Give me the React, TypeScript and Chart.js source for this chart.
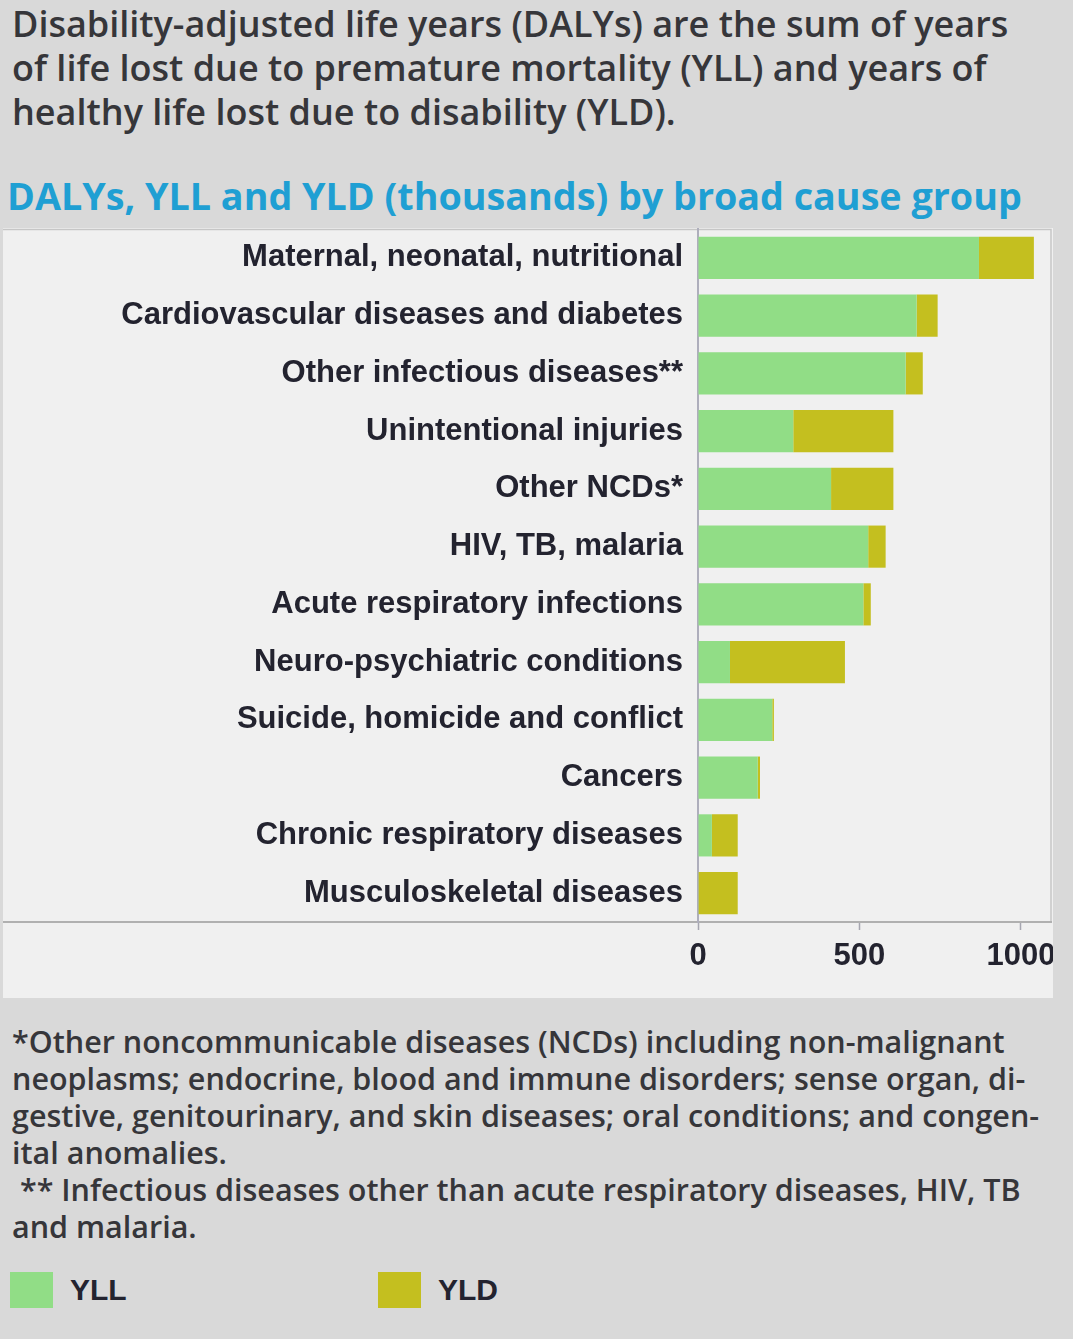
import React, { useEffect, useRef } from "react";
import { Chart, registerables } from "chart.js";

Chart.register(...registerables);

// Broad cause groups, top to bottom
const causes = [
  "Maternal, neonatal, nutritional",
  "Cardiovascular diseases and diabetes",
  "Other infectious diseases**",
  "Unintentional injuries",
  "Other NCDs*",
  "HIV, TB, malaria",
  "Acute respiratory infections",
  "Neuro-psychiatric conditions",
  "Suicide, homicide and conflict",
  "Cancers",
  "Chronic respiratory diseases",
  "Musculoskeletal diseases",
];

// Years of life lost (thousands)
const yll = [870, 677, 643, 295, 412, 527, 512, 99, 230, 185, 43, 2];
// Years lived with disability (thousands)
const yld = [170, 65, 53, 310, 193, 54, 23, 356, 5, 7, 80, 121];

const xTicks = [0, 500, 1000];
const xMax = 1093;

const introLines = [
  "Disability-adjusted life years (DALYs) are the sum of years",
  "of life lost due to premature mortality (YLL) and years of",
  "healthy life lost due to disability (YLD).",
];
const chartTitle = "DALYs, YLL and YLD (thousands) by broad cause group";
const noteLines = [
  "*Other noncommunicable diseases (NCDs) including non-malignant",
  "neoplasms; endocrine, blood and immune disorders; sense organ, di-",
  "gestive, genitourinary, and skin diseases; oral conditions; and congen-",
  "ital anomalies.",
  " ** Infectious diseases other than acute respiratory diseases, HIV, TB",
  "and malaria.",
];

const YLL_COLOR = "#91dd86";
const YLD_COLOR = "#c4bf1f";
const INK = "#23232f";
const LABEL_FONT = "'Liberation Sans', Arial, sans-serif";

// Frame around the labels and bars
const framePlugin = {
  id: "frame",
  beforeDraw(chart: any) {
    const { ctx, chartArea } = chart;
    ctx.save();
    ctx.strokeStyle = "#c6c6c6";
    ctx.lineWidth = 1.5;
    ctx.beginPath();
    ctx.moveTo(0, chartArea.top + 0.5);
    ctx.lineTo(chartArea.right, chartArea.top + 0.5);
    ctx.lineTo(chartArea.right, chartArea.bottom);
    ctx.stroke();
    ctx.strokeStyle = "#b0b0b0";
    ctx.lineWidth = 2;
    ctx.beginPath();
    ctx.moveTo(0, chartArea.bottom);
    ctx.lineTo(chartArea.right, chartArea.bottom);
    ctx.stroke();
    ctx.restore();
  },
};

function DalyChart() {
  const ref = useRef<HTMLCanvasElement | null>(null);
  useEffect(() => {
    if (!ref.current) return;
    const chart = new Chart(ref.current, {
      type: "bar",
      data: {
        labels: causes,
        datasets: [
          {
            label: "YLL",
            data: yll,
            backgroundColor: YLL_COLOR,
            borderWidth: 0,
            barPercentage: 0.73,
            categoryPercentage: 1,
          },
          {
            label: "YLD",
            data: yld,
            backgroundColor: YLD_COLOR,
            borderWidth: 0,
            barPercentage: 0.73,
            categoryPercentage: 1,
          },
        ],
      },
      options: {
        indexAxis: "y",
        animation: false,
        responsive: false,
        maintainAspectRatio: false,
        layout: { padding: { top: 1, right: 2, left: 0, bottom: 0 } },
        plugins: {
          legend: { display: false },
          tooltip: { enabled: false },
          title: { display: false },
        },
        scales: {
          x: {
            stacked: true,
            min: 0,
            max: xMax,
            afterBuildTicks: (scale: any) => {
              scale.ticks = xTicks.map((v) => ({ value: v }));
            },
            afterFit: (scale: any) => {
              scale.height = 76;
              scale.paddingLeft = 0;
              scale.paddingRight = 0;
            },
            grid: {
              drawOnChartArea: false,
              drawTicks: true,
              tickLength: 8,
              tickColor: "#a6a6b0",
              tickWidth: 1.5,
            },
            border: { display: true, color: "#b0b0b0", width: 2 },
            ticks: {
              color: INK,
              padding: 8,
              maxRotation: 0,
              callback: (v: any) => String(v),
              font: { family: LABEL_FONT, size: 31, weight: "bold" },
            },
          },
          y: {
            stacked: true,
            afterFit: (scale: any) => {
              scale.width = 695;
              scale.paddingTop = 0;
              scale.paddingBottom = 0;
            },
            grid: { drawOnChartArea: false, drawTicks: false },
            border: { display: true, color: "#aeaebc", width: 2 },
            ticks: {
              color: INK,
              padding: 15,
              autoSkip: false,
              font: { family: LABEL_FONT, size: 31, weight: "bold" },
            },
          },
        },
      },
      plugins: [framePlugin],
    } as any);
    return () => chart.destroy();
  }, []);
  return <canvas ref={ref} width={1050} height={770} style={{ display: "block" }} />;
}

export default function App() {
  const textFont = "'Open Sans', 'Noto Sans', sans-serif";
  return (
    <div
      style={{
        position: "absolute",
        left: 0,
        top: 0,
        width: 1073,
        height: 1339,
        background: "#d9d9d9",
        overflow: "hidden",
      }}
    >
      <div
        style={{
          position: "absolute",
          left: 12,
          top: 2,
          fontFamily: textFont,
          fontWeight: 600,
          fontSize: 36,
          lineHeight: "44px",
          color: "#36363a",
          whiteSpace: "pre",
        }}
      >
        {introLines.map((l) => (
          <div key={l}>{l}</div>
        ))}
      </div>
      <div
        style={{
          position: "absolute",
          left: 7,
          top: 174,
          fontFamily: textFont,
          fontWeight: 700,
          fontSize: 37.7,
          lineHeight: "44px",
          color: "#1f9fd3",
          whiteSpace: "pre",
        }}
      >
        {chartTitle}
      </div>
      <div
        style={{
          position: "absolute",
          left: 3,
          top: 228,
          width: 1050,
          height: 770,
          background: "#f0f0f0",
        }}
      >
        <DalyChart />
      </div>
      <div
        style={{
          position: "absolute",
          left: 12,
          top: 1023,
          fontFamily: textFont,
          fontWeight: 600,
          fontSize: 30.5,
          lineHeight: "37px",
          color: "#36363a",
          whiteSpace: "pre",
        }}
      >
        {noteLines.map((l) => (
          <div key={l}>{l}</div>
        ))}
      </div>
      {[
        { label: "YLL", color: YLL_COLOR, x: 10 },
        { label: "YLD", color: YLD_COLOR, x: 378 },
      ].map((item) => (
        <div key={item.label} style={{ position: "absolute", left: item.x, top: 1272 }}>
          <div
            style={{
              position: "absolute",
              left: 0,
              top: 0,
              width: 43,
              height: 36,
              background: item.color,
            }}
          />
          <div
            style={{
              position: "absolute",
              left: 60,
              top: 0,
              height: 36,
              lineHeight: "36px",
              fontFamily: LABEL_FONT,
              fontWeight: 700,
              fontSize: 30,
              color: INK,
            }}
          >
            {item.label}
          </div>
        </div>
      ))}
    </div>
  );
}
